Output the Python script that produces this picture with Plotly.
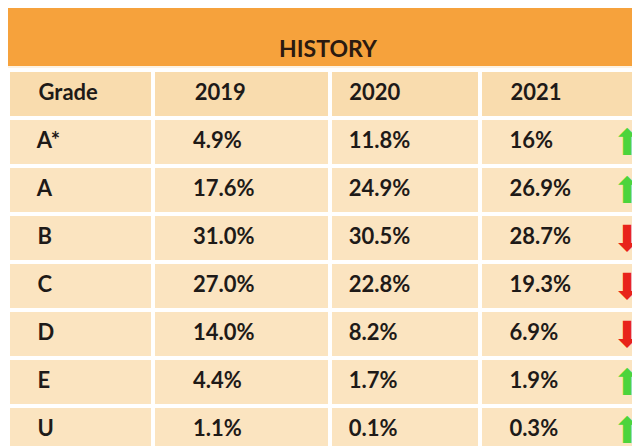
import plotly.graph_objects as go

title = "HISTORY"
header = ["Grade", "2019", "2020", "2021"]
grades = ["A*", "A", "B", "C", "D", "E", "U"]
y2019 = ["4.9%", "17.6%", "31.0%", "27.0%", "14.0%", "4.4%", "1.1%"]
y2020 = ["11.8%", "24.9%", "30.5%", "22.8%", "8.2%", "1.7%", "0.1%"]
y2021 = ["16%", "26.9%", "28.7%", "19.3%", "6.9%", "1.9%", "0.3%"]
trend = ["up", "up", "down", "down", "down", "up", "up"]

pads = [4, 6, 2, 4]
def pad(s, n):
    return "\u00a0" * n + s

cols = [grades, y2019, y2020, y2021]
cell_vals = [["<b>%s</b>" % pad(v, pads[i]) for v in c] for i, c in enumerate(cols)]
head_vals = [pad("<b>%s</b>" % h, pads[i]) for i, h in enumerate(header)]

fig = go.Figure()
fig.add_trace(go.Table(
    domain=dict(x=[0, 1], y=[0, 1 - 62 / 446]),
    columnwidth=[145, 177, 150, 168],
    header=dict(values=head_vals, fill_color="#F9DCAE", line=dict(color="white", width=4),
                align="left", height=48,
                font=dict(family="Lato", size=22, color="#1e1a18")),
    cells=dict(values=cell_vals, fill_color="#FBE4C0", line=dict(color="white", width=4),
               align="left", height=48,
               font=dict(family="Lato", size=22, color="#1e1a18")),
))

# arrows drawn as annotations so they sit above the table layer
for i, t in enumerate(trend):
    fig.add_annotation(
        text="⬆" if t == "up" else "⬇", x=0, y=i, xref="x", yref="y", showarrow=False,
        font=dict(family="DejaVu Sans", size=36, color="#4CD43C" if t == "up" else "#E8231A"),
    )

fig.add_shape(type="rect", xref="paper", yref="paper", x0=0, x1=1, y0=1 - 58 / 446, y1=1,
              fillcolor="#F6A23C", line=dict(width=0), layer="below")
fig.add_annotation(text="<b>%s</b>" % title, xref="paper", yref="paper", x=0.5, y=1 - 40 / 446,
                   yanchor="middle", showarrow=False, font=dict(family="Lato", size=23, color="#2a1a10"))

fig.update_layout(
    width=640, height=446, margin=dict(l=0, r=0, t=0, b=0),
    paper_bgcolor="#FDF3E3", plot_bgcolor="rgba(0,0,0,0)", showlegend=False,
    xaxis=dict(domain=[0.94, 0.995], range=[-1, 1], visible=False, fixedrange=True),
    yaxis=dict(domain=[0, 1 - 110 / 446], range=[6.5, -0.5], visible=False, fixedrange=True),
)

fig.write_html("out.html")
